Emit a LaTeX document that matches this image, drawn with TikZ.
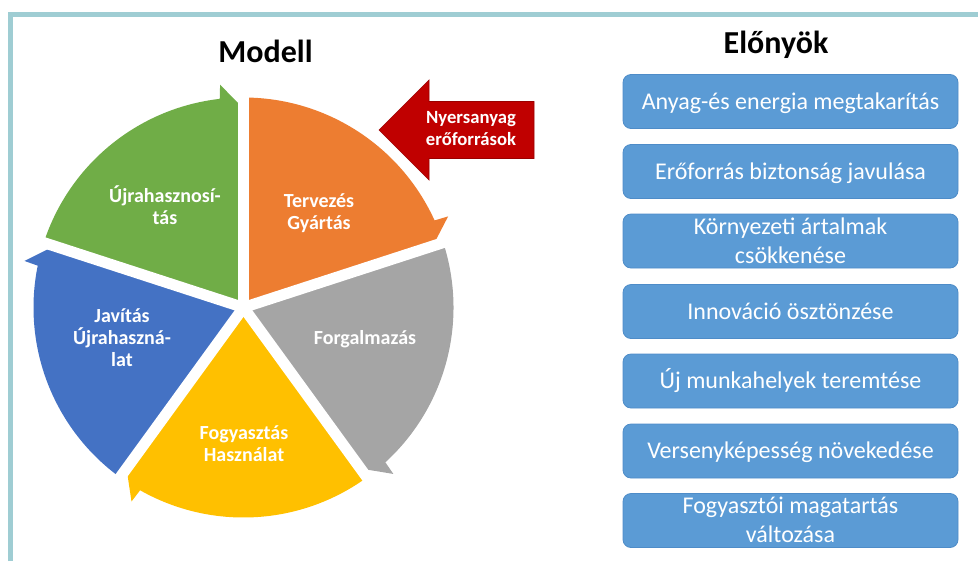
\documentclass[tikz,border=0pt]{standalone}
\usepackage{fontspec}
\setmainfont{Carlito}
\definecolor{frameC}{HTML}{9FCDD3}
\definecolor{orangeC}{HTML}{ED7D31}
\definecolor{grayC}{HTML}{A5A5A5}
\definecolor{yellowC}{HTML}{FFC000}
\definecolor{blueC}{HTML}{4472C4}
\definecolor{greenC}{HTML}{70AD47}
\definecolor{redC}{HTML}{C00000}
\definecolor{redEdge}{HTML}{9A0000}
\definecolor{boxC}{HTML}{5B9BD5}
\definecolor{boxEdge}{HTML}{4E8CC8}
\begin{document}
\begin{tikzpicture}[x=0.75pt,y=-0.75pt,
  titletext/.style={font=\fontsize{24}{29}\selectfont\bfseries, anchor=base, inner sep=0pt},
  seglabel/.style={font=\fontsize{15}{16.5}\selectfont\bfseries, text=white, align=center, inner sep=0pt, text height=9.5pt, text depth=0pt},
  seg2/.style={text height=26pt},
  seg3/.style={text height=42.5pt},
  rawlabel/.style={font=\fontsize{14}{16.5}\selectfont\bfseries, text=white, align=center, inner sep=0pt, text height=25.35pt, text depth=0pt},
  benefit/.style={fill=boxC, draw=boxEdge, line width=0.6pt, rounded corners=6pt, minimum width=251.25pt, minimum height=40.5pt, inner sep=0pt, text=white, font=\fontsize{18}{21.75}\selectfont, align=center, text height=11.4pt, text depth=0pt},
  twoline/.style={text height=33.15pt}
]
\useasboundingbox (0,0) rectangle (978,561);

% pie segments
\begin{scope}[shift={(243.5,307.5)}]
  \foreach \a/\c in {90/orangeC,18/grayC,-54/yellowC,-126/blueC,162/greenC}{
    \pgfmathsetmacro\arcend{\a-65.5}
    \pgfmathsetmacro\barbang{\a-66}
    \pgfmathsetmacro\tipang{\a-72}
    \fill[\c] (0,0) -- (\a:157.5pt) arc[start angle=\a, end angle=\arcend, radius=157.5pt]
      -- (\barbang:168pt) -- (\tipang:149.25pt) -- cycle;
  }
  \foreach \a in {90,18,-54,-126,162}
    \draw[white, line width=8.25pt] (0,0) -- (\a:174pt);
  \fill[white] (0,0) circle (4.5pt);
\end{scope}

% segment labels
\node[seglabel, seg2] (s1) at (319,211.9) {Tervezés\\Gyártás};
\node[seglabel] (s2) at (365,337.7) {Forgalmazás};
\node[seglabel, seg2] (s3) at (244,443.9) {Fogyasztás\\Használat};
\node[seglabel, seg3] (s4) at (122,338.5) {Javítás\\Újrahaszná-\\lat};
\node[seglabel, seg2] (s5) at (165,207.6) {Újrahasznosí-\\tás};

% raw material arrow
\filldraw[fill=redC, draw=redEdge, line width=0.5pt]
  (379,130) -- (429,80) -- (429,101.5) -- (534,101.5) -- (534,158.5) -- (429,158.5) -- (429,180) -- cycle;
\node[rawlabel] (raw) at (471,128.3) {Nyersanyag\\erőforrások};

% titles
\node[titletext] (modell) at (265.5,62) {Modell};
\node[titletext] (elonyok) at (776,53.5) {Előnyök};

% benefit boxes
\node[benefit] (b1) at (790.5,101.5) {Anyag-és energia megtakarítás};
\node[benefit] (b2) at (790.5,171.5) {Erőforrás biztonság javulása};
\node[benefit, twoline] (b3) at (790.5,241) {Környezeti ártalmak\\csökkenése};
\node[benefit] (b4) at (790.5,311.5) {Innováció ösztönzése};
\node[benefit] (b5) at (790.5,381) {Új munkahelyek teremtése};
\node[benefit] (b6) at (790.5,451) {Versenyképesség növekedése};
\node[benefit, twoline] (b7) at (790.5,520.5) {Fogyasztói magatartás\\változása};

% frame
\draw[frameC, line width=3.75pt] (10.75,561) -- (10.75,14.3) -- (978,14.3);
\end{tikzpicture}
\end{document}
